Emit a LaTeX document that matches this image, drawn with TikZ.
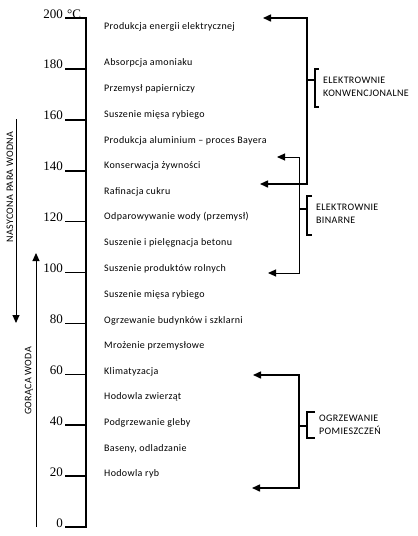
\documentclass[tikz,border=0pt]{standalone}
\usepackage{fontspec}
\setmainfont{Liberation Serif}
\newfontfamily\labfont[LetterSpace=3.5]{Carlito}
\usetikzlibrary{arrows.meta}
\begin{document}
\begin{tikzpicture}[x=1pt,y=-1pt,
  item/.style={anchor=west,inner sep=0pt,font=\labfont\fontsize{10}{11}\selectfont},
  num/.style={anchor=base east,inner sep=0pt,font=\fontsize{13}{15}\selectfont},
  axisline/.style={line width=1.8pt},
  tickline/.style={line width=1.6pt},
  grp/.style={line width=1.5pt},
  thin/.style={line width=1pt},
  tip/.style={-{Triangle[length=8pt,width=7pt]}},
  tips/.style={{Triangle[length=8pt,width=7pt]}-{Triangle[length=8pt,width=7pt]}},
  glabel/.style={anchor=west,inner sep=0pt,align=left,font=\labfont\fontsize{10}{13}\selectfont},
  side/.style={inner sep=0pt,rotate=90,font=\labfont\fontsize{10}{11}\selectfont}
]
\useasboundingbox (0,0) rectangle (418,536);

% axis
\coordinate (ax0) at (65,18);
\coordinate (ax1) at (86,18);
\coordinate (ax2) at (86,527);
\coordinate (ax3) at (65,527);
\draw[axisline] (ax0) -- (ax1) -- (ax2) -- (ax3);
\foreach \t in {20,40,...,180} {
  \pgfmathsetmacro\yy{527-2.545*\t}
  \coordinate (tl\t) at (65,\yy);
  \coordinate (tr\t) at (86,\yy);
  \draw[tickline] (tl\t) -- (tr\t);
}
\foreach \t in {0,20,...,180} {
  \pgfmathsetmacro\yy{527-2.545*\t}
  \node[num] (n\t) at (63,\yy) {\t};
}
\node[num] (n200) at (63,18) {200};
\node[num,anchor=base west] (deg) at (67,18) {°C};

% items
\node[item] (i1)  at (104,27)  {Produkcja energii elektrycznej};
\node[item] (i2)  at (104,63)  {Absorpcja amoniaku};
\node[item] (i3)  at (104,89)  {Przemysł papierniczy};
\node[item] (i4)  at (104,115) {Suszenie mięsa rybiego};
\node[item] (i5)  at (104,141) {Produkcja aluminium – proces Bayera};
\node[item] (i6)  at (104,166) {Konserwacja żywności};
\node[item] (i7)  at (104,192) {Rafinacja cukru};
\node[item] (i8)  at (104,217) {Odparowywanie wody (przemysł)};
\node[item] (i9)  at (104,243) {Suszenie i pielęgnacja betonu};
\node[item] (i10) at (104,269) {Suszenie produktów rolnych};
\node[item] (i11) at (104,295) {Suszenie mięsa rybiego};
\node[item] (i12) at (104,321) {Ogrzewanie budynków i szklarni};
\node[item] (i13) at (104,346) {Mrożenie przemysłowe};
\node[item] (i14) at (104,372) {Klimatyzacja};
\node[item] (i15) at (104,397) {Hodowla zwierząt};
\node[item] (i16) at (104,423) {Podgrzewanie gleby};
\node[item] (i17) at (104,449) {Baseny, odladzanie};
\node[item] (i18) at (104,474) {Hodowla ryb};

% left arrows
\coordinate (s0) at (16,119);
\coordinate (s1) at (16,323);
\draw[thin,tip] (s0) -- (s1);
\node[side] (steam) at (10,187) {NASYCONA PARA WODNA};
\coordinate (w0) at (36,527);
\coordinate (w1) at (36,253);
\draw[thin,tip] (w0) -- (w1);
\node[side] (water) at (29,381) {GORĄCA WODA};

% conventional power plants
\coordinate (ka) at (263,18);
\coordinate (k1) at (307,18);
\coordinate (k2) at (307,184);
\coordinate (kb) at (260,184);
\draw[grp,tips] (ka) -- (k1) -- (k2) -- (kb);
\coordinate (km) at (307,80);
\coordinate (kc) at (315,80);
\draw[grp] (km) -- (kc);
\coordinate (kr0) at (319,69);
\coordinate (kr1) at (315,69);
\coordinate (kr2) at (315,107);
\coordinate (kr3) at (319,107);
\draw[grp] (kr0) -- (kr1) -- (kr2) -- (kr3);
\node[glabel] (konw) at (323,86.5) {ELEKTROWNIE\\KONWENCJONALNE};

% binary power plants
\coordinate (ba) at (277,157);
\coordinate (b1) at (299,157);
\coordinate (b2) at (299,273);
\coordinate (bb) at (268,273);
\draw[thin,tips] (ba) -- (b1) -- (b2) -- (bb);
\coordinate (bm) at (299,209);
\coordinate (bc) at (307,209);
\draw[grp] (bm) -- (bc);
\coordinate (br0) at (312,196);
\coordinate (br1) at (307,196);
\coordinate (br2) at (307,235);
\coordinate (br3) at (312,235);
\draw[grp] (br0) -- (br1) -- (br2) -- (br3);
\node[glabel] (bin) at (316,214) {ELEKTROWNIE\\BINARNE};

% space heating
\coordinate (ha) at (253,375);
\coordinate (h1) at (299,375);
\coordinate (h2) at (299,488);
\coordinate (hb) at (252,488);
\draw[grp,tips] (ha) -- (h1) -- (h2) -- (hb);
\coordinate (hm) at (299,426);
\coordinate (hc) at (307,426);
\draw[grp] (hm) -- (hc);
\coordinate (hr0) at (315,412);
\coordinate (hr1) at (307,412);
\coordinate (hr2) at (307,438);
\coordinate (hr3) at (315,438);
\draw[grp] (hr0) -- (hr1) -- (hr2) -- (hr3);
\node[glabel] (heat) at (319,424.5) {OGRZEWANIE\\POMIESZCZEŃ};
\end{tikzpicture}
\end{document}
